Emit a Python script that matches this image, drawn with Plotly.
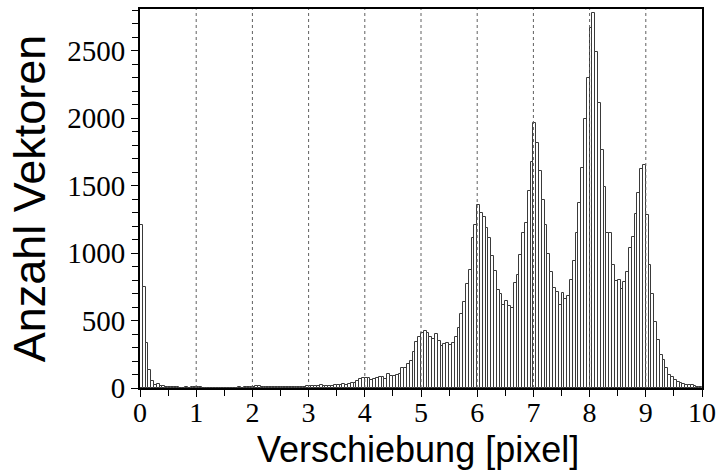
import numpy as np
import plotly.graph_objects as go

# Histogram of displacement magnitudes, bin width 0.05 px from 0 to 10
bin_width = 0.05
bin_left = np.round(np.arange(0, 10, bin_width), 2)

counts_0_to_5 = [
    1210, 750, 330, 130, 50, 20, 30, 15, 18, 8,        # 0.00 - 0.45
    6, 5, 4, 4, 3, 3, 4, 3, 5, 6,                      # 0.50 - 0.95
    8, 4, 3, 2, 2, 3, 2, 2, 3, 2,                      # 1.00 - 1.45
    3, 2, 3, 2, 3, 4, 3, 5, 6, 8,                      # 1.50 - 1.95
    10, 12, 18, 9, 6, 5, 4, 4, 5, 4,                   # 2.00 - 2.45
    5, 6, 8, 7, 9, 8, 10, 9, 11, 12,                   # 2.50 - 2.95
    14, 13, 16, 15, 24, 17, 14, 18, 16, 20,            # 3.00 - 3.45
    22, 19, 26, 24, 30, 36, 34, 55, 66, 75,            # 3.50 - 3.95
    72, 74, 62, 66, 72, 80, 78, 68, 104, 92,           # 4.00 - 4.45
    86, 100, 102, 150, 145, 178, 200, 270, 340, 380,   # 4.50 - 4.95
]
counts_5_to_10 = [
    405, 420, 410, 375, 360, 398, 352, 312, 327, 335,            # 5.00 - 5.45
    322, 337, 377, 444, 550, 639, 773, 877, 1115, 1212,          # 5.50 - 5.95
    1360, 1294, 1269, 1190, 1113, 976, 865, 729, 699, 612,       # 6.00 - 6.45
    647, 605, 595, 778, 835, 989, 1152, 1224, 1462, 1678,        # 6.50 - 6.95
    1968, 1814, 1611, 1393, 1212, 996, 860, 743, 711, 612,       # 7.00 - 7.45
    704, 662, 684, 803, 939, 1152, 1373, 1628, 1994, 2299,       # 7.50 - 7.95
    2671, 2777, 2489, 2113, 1766, 1488, 1146, 1151, 911, 794,    # 8.00 - 8.45
    804, 735, 787, 861, 1040, 1117, 1288, 1448, 1622, 1654,      # 8.50 - 8.95
    1283, 911, 700, 489, 353, 242, 204, 150, 100, 85,            # 9.00 - 9.45
    56, 48, 39, 31, 19, 23, 21, 13, 10, 7,                       # 9.50 - 9.95
]
counts = counts_0_to_5 + counts_5_to_10

grid_positions = [1, 2, 3, 4, 5, 6, 7, 8, 9]
x_tick_values = list(range(0, 11))
y_tick_values = [0, 500, 1000, 1500, 2000, 2500]

fig = go.Figure()
fig.add_trace(go.Bar(
    x=bin_left + bin_width / 2,
    y=counts,
    width=bin_width,
    marker=dict(color="white", line=dict(color="#3a3a3a", width=1)),
    showlegend=False,
))

# dashed reference lines at whole-pixel shifts, drawn over the bars
for g in grid_positions:
    fig.add_shape(type="line", xref="x", yref="y domain", x0=g, x1=g, y0=0, y1=1,
                  line=dict(color="#606060", width=1, dash="3px,3px"), layer="above")

# axis titles placed explicitly
fig.add_annotation(text="Verschiebung [pixel]", xref="paper", yref="paper",
                   x=0.495, y=-0.162, xanchor="center", yanchor="middle", showarrow=False,
                   font=dict(family="Liberation Sans", size=36, color="black"))
fig.add_annotation(text="Anzahl Vektoren", xref="paper", yref="paper",
                   x=-0.196, y=0.5, xanchor="center", yanchor="middle", showarrow=False,
                   textangle=-90,
                   font=dict(family="Liberation Sans", size=45, color="black"))

serif = "Liberation Serif"
fig.update_layout(
    width=718, height=473,
    margin=dict(l=140, r=16, t=9, b=85),
    paper_bgcolor="white", plot_bgcolor="white",
    bargap=0,
    xaxis=dict(
        range=[0, 10], tickvals=x_tick_values, automargin=False,
        ticks="outside", ticklen=7, tickwidth=1.2, tickcolor="black",
        minor=dict(dtick=0.5, ticks="outside", ticklen=6, tickwidth=1, tickcolor="black"),
        showline=True, linecolor="black", linewidth=2, mirror=True,
        showgrid=False, zeroline=False, ticklabelstandoff=-9,
        tickfont=dict(family=serif, size=28, color="black"),
    ),
    yaxis=dict(
        range=[0, 2810], tickvals=y_tick_values, automargin=False,
        ticks="outside", ticklen=7, tickwidth=1.2, tickcolor="black",
        minor=dict(dtick=100, tick0=0, ticks="outside", ticklen=6, tickwidth=1, tickcolor="black"),
        showline=True, linecolor="black", linewidth=2, mirror=True,
        showgrid=False, zeroline=False,
        tickfont=dict(family=serif, size=29, color="black"),
    ),
)

fig.write_html("out.html")
